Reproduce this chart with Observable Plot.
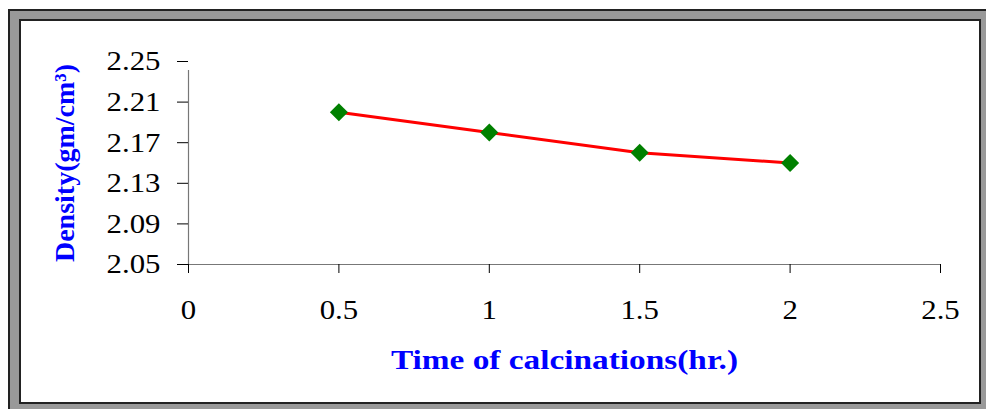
<!DOCTYPE html>
<html><head><meta charset="utf-8">
<script src="https://cdn.jsdelivr.net/npm/d3@7"></script>
<script src="https://cdn.jsdelivr.net/npm/@observablehq/plot@0.6"></script>
<style>
html,body{margin:0;padding:0;background:#fff;width:986px;height:409px;overflow:hidden;}
#outer{position:absolute;left:8px;top:9px;width:990px;height:410px;background:#999;border-left:2px solid #222;border-top:2px solid #222;box-sizing:border-box;}
#inner{position:absolute;left:19px;top:19px;width:962px;height:385px;background:#fff;border:2px solid #222;box-sizing:border-box;}
#chart{position:absolute;left:0;top:0;}
</style></head>
<body>
<div id="outer"></div><div id="inner"></div>
<div id="chart"></div>
<script>
const times = [0.5, 1, 1.5, 2];
const density = [2.20, 2.18, 2.16, 2.15];
const xTicks = [0, 0.5, 1, 1.5, 2, 2.5];
const yTicks = [2.05, 2.09, 2.13, 2.17, 2.21, 2.25];
const xLabel = "Time of calcinations(hr.)";
const yLabel = "Density(gm/cm³)";

const data = times.map((t, i) => ({t, d: density[i]}));
const serif = "'Liberation Serif', 'Times New Roman', serif";

const chart = Plot.plot({
  width: 986, height: 409,
  marginLeft: 188, marginRight: 46, marginTop: 61, marginBottom: 145,
  style: {background: "transparent", fontFamily: serif, color: "black", overflow: "visible"},
  x: {domain: [0, 2.5]},
  y: {domain: [2.05, 2.25]},
  marks: [
    Plot.ruleX([0], {y1: 2.05, y2: 2.25, insetBottom: -9, stroke: "#777", strokeWidth: 1.2}),
    Plot.ruleY([2.05], {x1: 0, x2: 2.5, insetLeft: -11, stroke: "#777", strokeWidth: 1.2}),
    Plot.axisX({ticks: xTicks, tickSize: 9, tickPadding: 26, tickFormat: d => String(d), fontSize: 28, stroke: "black", label: null, className: "stretch"}),
    Plot.axisY({ticks: yTicks, tickSize: 11, tickPadding: 17, tickFormat: d => d.toFixed(2), fontSize: 28, stroke: "black", label: null, className: "stretch"}),
    Plot.line(data, {x: "t", y: "d", stroke: "red", strokeWidth: 3}),
    Plot.dot(data, {x: "t", y: "d", symbol: "square", rotate: 45, r: 7.2, fill: "green", stroke: "none"}),
    Plot.text([xLabel], {frameAnchor: "bottom", textAnchor: "middle", lineAnchor: "middle", dy: 96, fontSize: 28, fontWeight: "bold", fill: "blue", fontFamily: serif, className: "xlab"}),
    Plot.text([yLabel], {frameAnchor: "left", textAnchor: "middle", lineAnchor: "middle", dx: -123, rotate: -90, fontSize: 28, fontWeight: "bold", fill: "blue", fontFamily: serif, className: "ylab"})
  ]
});
document.getElementById("chart").appendChild(chart);

// the reference's lettering is horizontally widened; emulate with textLength
function widen(sel, k) {
  chart.querySelectorAll(sel).forEach(t => {
    const w = t.getComputedTextLength();
    t.setAttribute("textLength", (w * k).toFixed(1));
    t.setAttribute("lengthAdjust", "spacingAndGlyphs");
  });
}
widen(".stretch text", 1.1);
widen(".xlab text", 1.19);
</script>
</body></html>
